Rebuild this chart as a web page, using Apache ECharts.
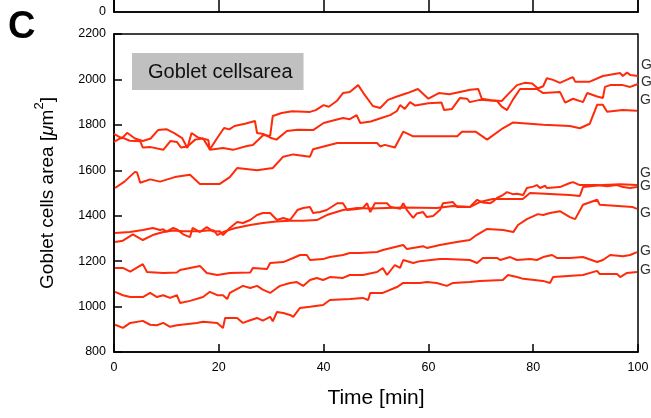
<!DOCTYPE html>
<html>
<head>
<meta charset="utf-8">
<script src="https://cdn.jsdelivr.net/npm/echarts@6/dist/echarts.min.js"></script>
<style>
  html, body { margin: 0; padding: 0; background: #fff; }
  #chart { width: 651px; height: 418px; }
</style>
</head>
<body>
<div id="chart"></div>
<script>
// x ticks and y ticks
var xTicks = [0, 20, 40, 60, 80, 100]
var yTicks = [800, 1000, 1200, 1400, 1600, 1800, 2000, 2200]

// [time (min), area (um^2)]
var cellA = [[0,1760],[1.5,1740],[2.5,1765],[4,1740],[5.5,1729],[7,1740],[8.4,1777],[10,1781],[11.5,1764],[13,1742],[14,1698],[14.8,1764],[16,1745],[18,1733],[18.3,1690],[20.8,1698],[22.7,1690],[25.4,1707],[26.5,1711],[28.5,1755],[29.8,1751],[30.3,1839],[32,1852],[34,1860],[37.4,1857],[38.5,1865],[40,1887],[41,1880],[42.5,1905],[43.7,1940],[45,1945],[46.6,1975],[47.6,1940],[49.4,1883],[50.8,1874],[52.3,1910],[54,1925],[56,1940],[58,1958],[60,1915],[62,1940],[64,1935],[66,1945],[68,1955],[69.5,1958],[70.2,1915],[72,1908],[74,1905],[75,1930],[76.9,1975],[78.4,1985],[79.8,1982],[80.9,1960],[81.9,1970],[82.6,2005],[83.8,1998],[85.1,1985],[87,2005],[87.6,2010],[88,1990],[90.8,1990],[93.3,2015],[96.6,2028],[97.1,2015],[97.9,2030],[98.5,2020],[100,2015]]
var cellB = [[0,1725],[1.5,1745],[3,1730],[5,1728],[5.5,1700],[7,1702],[9.4,1690],[10.8,1729],[12,1725],[12.8,1700],[14,1705],[15.5,1735],[17,1740],[18.3,1692],[19.7,1742],[21,1786],[22,1780],[23,1795],[25,1805],[26.9,1817],[27.3,1764],[28.5,1760],[30,1742],[31,1735],[33,1773],[35,1778],[38,1777],[40,1808],[42,1820],[43.7,1830],[45,1825],[46.3,1843],[47,1808],[49,1815],[51,1830],[52.7,1843],[54,1861],[54.6,1887],[55.5,1870],[56.5,1900],[57.5,1885],[60,1895],[62.5,1898],[63,1865],[64.5,1870],[66,1918],[67.4,1915],[67.9,1900],[69.8,1910],[73.1,1905],[74,1880],[75,1865],[76.1,1910],[77.5,1958],[80.7,1958],[81.9,1940],[85.1,1945],[86.1,1898],[87.6,1915],[89.5,1900],[90.3,1940],[92.2,1925],[93.3,1918],[93.7,1967],[94.7,1975],[97.1,1975],[98.5,1967],[100,1980]]
var cellC = [[0.2,1522],[2,1550],[4,1593],[4.4,1590],[5,1545],[6.9,1560],[8.8,1550],[11.6,1570],[14.5,1580],[16.4,1540],[20.2,1540],[22.1,1570],[23.5,1610],[27.3,1600],[30.3,1610],[32.3,1660],[34.2,1670],[37.4,1660],[38,1693],[42.6,1720],[50.2,1720],[50.8,1705],[51.7,1712],[53.6,1700],[55.2,1770],[57,1750],[65.5,1750],[66.4,1770],[69,1770],[71.2,1735],[74.2,1785],[76.1,1810],[81.9,1800],[87,1795],[88.9,1785],[90.8,1805],[92.2,1888],[93.3,1888],[94.1,1858],[97.1,1865],[99.8,1862]]
var cellD = [[0.2,1324],[3,1328],[5.5,1337],[7.4,1346],[8.8,1337],[9.4,1340],[10,1330],[11.3,1346],[12,1340],[13.2,1318],[14.5,1306],[15,1346],[16.4,1328],[17.7,1350],[19,1330],[20.2,1332],[20.8,1315],[22.1,1346],[23.5,1372],[24.6,1368],[26,1381],[27.3,1403],[28.4,1412],[29.8,1412],[31.1,1381],[32.3,1390],[33.6,1381],[35,1425],[36.1,1434],[37.4,1438],[38,1412],[39.3,1416],[40.6,1425],[42.6,1455],[43.7,1455],[44.5,1425],[46.4,1430],[47.5,1434],[48.3,1455],[48.9,1416],[49.8,1455],[52.1,1455],[52.7,1440],[54.6,1430],[55.2,1455],[55.9,1425],[57.1,1390],[57.8,1410],[59,1416],[59.7,1394],[60.9,1399],[62.2,1425],[62.8,1455],[64.7,1460],[65.5,1438],[66.6,1440],[67.9,1438],[69.3,1470],[70.4,1458],[71.8,1455],[72.3,1462],[73.1,1478],[74.2,1491],[75,1504],[76.1,1495],[76.9,1497],[78.1,1491],[78.8,1522],[80,1528],[80.7,1535],[81.3,1522],[82.3,1532],[82.6,1522],[85.1,1526],[87,1544],[87.6,1548],[88.9,1535],[92.2,1535],[94.1,1530],[96,1535],[97.1,1526],[98.5,1522],[99.8,1526]]
var cellE = [[0.2,1284],[1.7,1290],[3.6,1318],[5.5,1293],[7.4,1315],[9.4,1328],[11.3,1335],[13.2,1332],[16.4,1332],[18.3,1336],[19.1,1335],[19.7,1315],[21,1330],[23,1345],[26,1359],[28.4,1368],[31,1375],[33.5,1378],[36,1378],[38.7,1381],[40.6,1403],[43.7,1425],[46.4,1434],[48.9,1432],[55.2,1436],[61.6,1434],[64.7,1443],[67.9,1438],[69.8,1460],[72.3,1474],[78,1474],[79.4,1500],[87,1491],[88.9,1487],[89.5,1526],[93.3,1535],[96.6,1539],[99.8,1535]]
var cellF = [[0.2,1170],[1.7,1170],[3.1,1154],[5.5,1187],[6.3,1152],[9.4,1148],[12,1150],[12.6,1161],[14.5,1170],[16.4,1179],[17.7,1148],[19.7,1139],[22.1,1148],[26,1150],[26.5,1170],[29.2,1165],[29.8,1192],[32.3,1196],[34.2,1214],[35.5,1227],[36.8,1227],[37.4,1205],[39.9,1209],[41.2,1218],[43.7,1227],[45,1236],[46.9,1236],[50.2,1240],[51.3,1249],[55.2,1271],[55.9,1253],[59,1266],[59.7,1258],[62.2,1271],[65.4,1284],[67.9,1293],[69.2,1315],[71.2,1342],[74.3,1337],[76.2,1328],[77.1,1359],[78.8,1385],[80.9,1407],[81.9,1403],[83.2,1412],[85.1,1420],[87,1394],[88,1385],[89.5,1448],[92.2,1470],[92.7,1448],[99,1438],[99.8,1430]]
var cellG = [[0.2,1065],[1.7,1050],[3.1,1042],[5.5,1042],[6.9,1060],[8.2,1042],[9.4,1050],[10.7,1038],[12,1050],[12.6,1016],[14.5,1025],[17,1042],[18.3,1065],[19.7,1050],[20.8,1050],[21.6,1033],[22.1,1060],[24.6,1091],[26,1082],[27.3,1091],[28.4,1075],[29.8,1060],[31.1,1082],[31.7,1091],[33.6,1104],[34.9,1108],[36.1,1091],[37.4,1117],[38.7,1126],[39.9,1117],[41.2,1130],[43.7,1126],[45,1139],[47.5,1139],[50.2,1152],[51.3,1170],[52.1,1139],[53.6,1183],[54.6,1170],[55.2,1205],[57.1,1192],[58.4,1200],[62.2,1209],[63.5,1209],[67.9,1205],[69.3,1192],[70.4,1214],[73.1,1214],[73.7,1205],[75.6,1218],[76.9,1205],[79.4,1209],[80.7,1205],[81.9,1218],[83.6,1227],[84.5,1214],[87,1214],[89.5,1218],[92.2,1196],[93.3,1205],[94.7,1227],[97.1,1222],[98.5,1227],[99.8,1240]]
var cellH = [[0.2,920],[1.7,906],[3.1,928],[5.5,937],[6.9,920],[8.2,918],[9.4,928],[10.7,911],[12,918],[15.8,928],[17,933],[19.7,928],[20.8,906],[21.2,950],[23.5,950],[24.6,928],[26,940],[27.3,950],[28.4,938],[29.8,955],[30.3,935],[31.1,976],[32.3,972],[33.6,963],[34.2,955],[35.5,994],[37.4,999],[39.9,1007],[41.2,1029],[45,1033],[47.5,1038],[48.5,1029],[48.9,1060],[50.8,1060],[51.3,1060],[54,1086],[55.2,1104],[58.4,1104],[59.7,1108],[61.6,1104],[63.5,1091],[64.7,1104],[67.9,1108],[69.8,1113],[74.2,1117],[75.2,1139],[76.9,1130],[78.1,1122],[81.9,1113],[83.2,1104],[83.8,1130],[89.5,1139],[92.2,1157],[92.7,1143],[96,1143],[96.6,1130],[97.9,1148],[99.8,1152]]

var cells = [cellA, cellB, cellC, cellD, cellE, cellF, cellG, cellH]
var cellNames = ['Goblet cell 1', 'Goblet cell 2', 'Goblet cell 3', 'Goblet cell 4', 'Goblet cell 5', 'Goblet cell 6', 'Goblet cell 7', 'Goblet cell 8']
var labelShift = [-11, -2, -11, -1, -12, 4, -1, -2] // move end labels to where the picture has them

var myChart = echarts.init(document.getElementById('chart'), null, { renderer: 'canvas' })

var lineColor = '#ff2a0a'
var font = 'Liberation Sans, Arial, Helvetica, sans-serif'

var series = cells.map(function (data, i) {
  return {
    name: cellNames[i],
    type: 'line',
    xAxisIndex: 0,
    yAxisIndex: 0,
    data: data,
    showSymbol: false,
    symbol: 'none',
    lineStyle: { color: lineColor, width: 2 },
    endLabel: {
      show: true,
      formatter: cellNames[i],
      color: '#333',
      fontFamily: font,
      fontSize: 14,
      distance: 3,
      offset: [0, labelShift[i]]
    },
    z: 3
  }
})

var plainNumber = function (v) { return String(v) }

var options = {
  animation: false,
  backgroundColor: '#fff',
  textStyle: { fontFamily: font },
  title: {
    text: 'Goblet cellsarea',
    left: 132,
    top: 53,
    backgroundColor: '#c0c0c0',
    padding: [9, 11, 8, 16],
    textStyle: { fontFamily: font, fontSize: 20, fontWeight: 'normal', color: '#111', lineHeight: 20 }
  },
  graphic: [
    {
      type: 'text',
      left: 8,
      top: 9,
      style: { text: 'C', font: 'bold 38px ' + font, fill: '#000' }
    }
  ],
  grid: [
    { left: 114, right: 13, top: 34, bottom: 66, show: true, borderColor: '#000', borderWidth: 1.5, outerBoundsMode: 'none' },
    { left: 114, right: 13, top: -100, height: 112, show: true, borderColor: '#000', borderWidth: 1.5, outerBoundsMode: 'none' }
  ],
  xAxis: [
    {
      gridIndex: 0,
      type: 'value',
      min: xTicks[0],
      max: xTicks[xTicks.length - 1],
      interval: 20,
      name: 'Time [min]',
      nameLocation: 'middle',
      nameGap: 36,
      nameTextStyle: { fontFamily: font, fontSize: 21, color: '#000' },
      axisLine: { lineStyle: { color: '#000', width: 1.5 } },
      axisTick: { inside: true, length: 8, lineStyle: { color: '#000', width: 1.5 } },
      axisLabel: { color: '#000', fontSize: 12.5, margin: 9, fontFamily: font, formatter: plainNumber },
      splitLine: { show: false }
    },
    {
      gridIndex: 1,
      type: 'value',
      min: 0,
      max: 100,
      interval: 20,
      axisLine: { lineStyle: { color: '#000', width: 1.5 } },
      axisTick: { inside: true, length: 12, lineStyle: { color: '#000', width: 1.5 } },
      axisLabel: { show: false },
      splitLine: { show: false }
    }
  ],
  yAxis: [
    {
      gridIndex: 0,
      type: 'value',
      min: yTicks[0],
      max: yTicks[yTicks.length - 1],
      interval: 200,
      name: '{a|Goblet cells area [}{i|μ}{a|m}{s|2}{a|]}',
      nameLocation: 'middle',
      nameGap: 57,
      nameTextStyle: {
        rich: {
          a: { fontFamily: font, fontSize: 19, color: '#000', verticalAlign: 'bottom', lineHeight: 24 },
          i: { fontFamily: font, fontSize: 19, fontStyle: 'italic', color: '#000', verticalAlign: 'bottom', lineHeight: 24 },
          s: { fontFamily: font, fontSize: 13, color: '#000', verticalAlign: 'top', lineHeight: 24 }
        }
      },
      axisLine: { lineStyle: { color: '#000', width: 1.5 } },
      axisTick: { inside: true, length: 8, lineStyle: { color: '#000', width: 1.5 } },
      axisLabel: { color: '#000', fontSize: 12.5, margin: 8, fontFamily: font, formatter: plainNumber },
      splitLine: { show: false }
    },
    {
      gridIndex: 1,
      type: 'value',
      min: 0,
      max: 100,
      interval: 100,
      axisLine: { lineStyle: { color: '#000', width: 1.5 } },
      axisTick: { show: false },
      axisLabel: {
        color: '#000', fontSize: 12.5, margin: 8, fontFamily: font,
        formatter: function (v) { return v === 0 ? '0' : '' }
      },
      splitLine: { show: false }
    }
  ],
  series: series
}

myChart.setOption(options)
</script>
</body>
</html>
